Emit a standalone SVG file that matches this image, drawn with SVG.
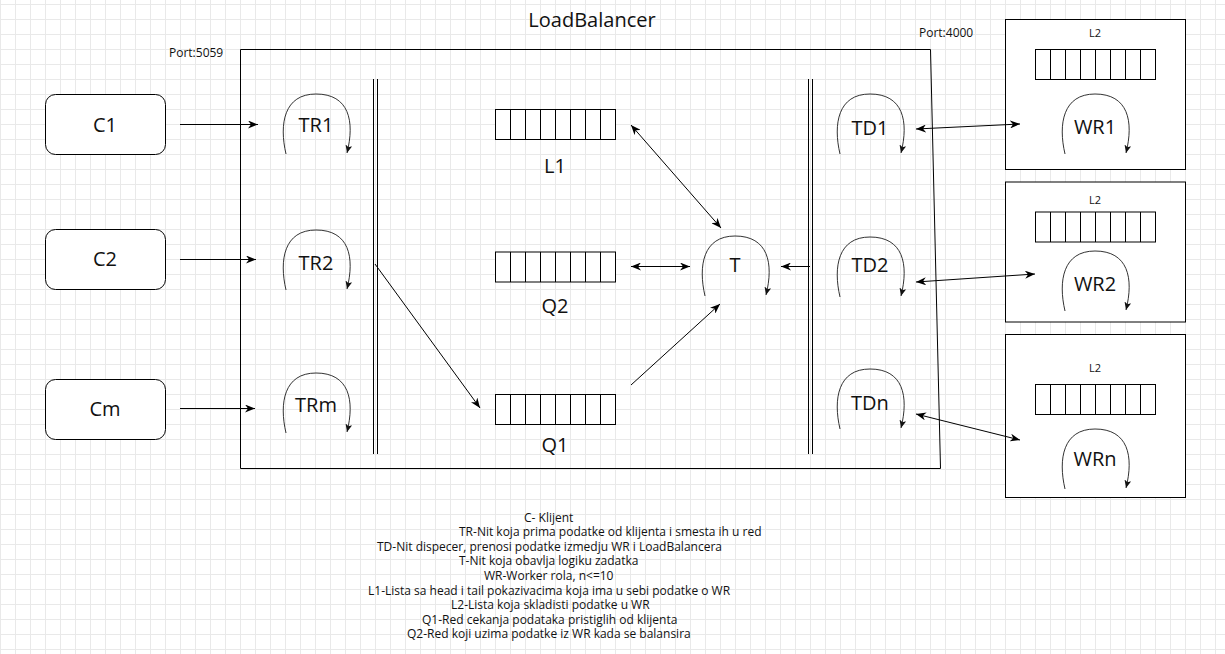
<svg xmlns="http://www.w3.org/2000/svg" width="1225" height="654" viewBox="0 0 1225 654">
<style>
  text { font-family: "Open Sans", "Liberation Sans", sans-serif; fill: #111; }
  .lbl { font-size: 20px; text-anchor: middle; }
  .small { font-size: 12px; }
  .l2 { font-size: 11px; text-anchor: middle; }
  .leg { font-size: 12px; }
  .box { fill: #fff; stroke: #000; stroke-width: 1; }
  .q { fill: #fff; stroke: #000; stroke-width: 1; }
  .qd { fill: none; stroke: #000; stroke-width: 1; }
  .con { fill: none; stroke: #000; stroke-width: 1; marker-end: url(#arr); }
  .bi { marker-start: url(#arr); }
  .thr { fill: none; stroke: #333; stroke-width: 1; marker-end: url(#tarr); }
  .ln { fill: none; stroke: #000; stroke-width: 1; }
</style>
<defs>
  <pattern id="grid" patternUnits="userSpaceOnUse" x="0" y="4" width="15" height="15">
    <path d="M0.5,0 V15 M0,0.5 H15" stroke="#e9e9e9" stroke-width="1" fill="none"/>
  </pattern>
  <marker id="arr" markerUnits="userSpaceOnUse" viewBox="0 0 10 8" markerWidth="10" markerHeight="8" refX="10" refY="4" orient="auto-start-reverse">
    <path d="M0,0 L10,4 L0,8 L3,4 Z" fill="#000"/>
  </marker>
  <marker id="tarr" markerUnits="userSpaceOnUse" viewBox="0 0 8 7" markerWidth="8" markerHeight="7" refX="8" refY="3.5" orient="auto">
    <path d="M0,0 L8,3.5 L0,7 L2,3.5 Z" fill="#111"/>
  </marker>
  <path id="thread" d="M4,60 C-3,30 2,0 34,0 C67,0 73,27 65,59"/>
  <g id="queue">
    <rect class="q" x="0" y="0" width="120" height="30"/>
    <path class="qd" d="M15,0V30M30,0V30M45,0V30M60,0V30M75,0V30M90,0V30M105,0V30"/>
  </g>
</defs>
<rect width="1225" height="654" fill="#fff"/>
<rect width="1225" height="654" fill="url(#grid)"/>

<text x="592" y="27" style="font-size:20px;text-anchor:middle">LoadBalancer</text>

<g id="loadbalancer">
  <path class="ln" d="M240.5,49.5 H930.5 L940.5,468.5 H240.5 Z" fill="none"/>
  <text class="small" x="169" y="57">Port:5059</text>
  <text class="small" x="919" y="37">Port:4000</text>
  <path class="ln" d="M373.5,79 V454 M377.5,79 V454"/>
  <path class="ln" d="M808.5,79 V454 M812.5,79 V454"/>
</g>

<g id="C1"><rect class="box" x="45.5" y="94.5" width="120" height="60" rx="10"/><text class="lbl" x="105" y="132">C1</text></g>
<g id="C2"><rect class="box" x="45.5" y="229.5" width="120" height="60" rx="10"/><text class="lbl" x="105" y="266">C2</text></g>
<g id="Cm"><rect class="box" x="45.5" y="379.5" width="120" height="60" rx="10"/><text class="lbl" x="105" y="416">Cm</text></g>

<g id="TR1"><use href="#thread" class="thr" x="282" y="94"/><text class="lbl" x="316" y="132">TR1</text></g>
<g id="TR2"><use href="#thread" class="thr" x="282" y="230"/><text class="lbl" x="316" y="270">TR2</text></g>
<g id="TRm"><use href="#thread" class="thr" x="282" y="373"/><text class="lbl" x="316" y="412">TRm</text></g>

<g id="L1"><use href="#queue" x="495.5" y="109.5"/><text class="lbl" x="555" y="173">L1</text></g>
<g id="Q2"><use href="#queue" x="495.5" y="252"/><text class="lbl" x="555" y="313">Q2</text></g>
<g id="Q1"><use href="#queue" x="495.5" y="394.5"/><text class="lbl" x="555" y="452">Q1</text></g>

<g id="T"><use href="#thread" class="thr" x="701" y="236"/><text class="lbl" x="735" y="272">T</text></g>

<g id="TD1"><use href="#thread" class="thr" x="836" y="94"/><text class="lbl" x="870" y="135">TD1</text></g>
<g id="TD2"><use href="#thread" class="thr" x="836" y="237"/><text class="lbl" x="870" y="272">TD2</text></g>
<g id="TDn"><use href="#thread" class="thr" x="836" y="369"/><text class="lbl" x="870" y="410">TDn</text></g>

<g id="WR1">
  <rect class="box" x="1005.5" y="19.5" width="180" height="150"/>
  <text class="l2" x="1095" y="36.5">L2</text>
  <use href="#queue" x="1035.5" y="49.5"/>
  <use href="#thread" class="thr" x="1061" y="94"/>
  <text class="lbl" x="1095" y="134">WR1</text>
</g>
<g id="WR2">
  <rect class="box" x="1005.5" y="182" width="180" height="140"/>
  <text class="l2" x="1095" y="204">L2</text>
  <use href="#queue" x="1035.5" y="212"/>
  <use href="#thread" class="thr" x="1061" y="251"/>
  <text class="lbl" x="1095" y="291">WR2</text>
</g>
<g id="WRn">
  <rect class="box" x="1005.5" y="334.5" width="180" height="163"/>
  <text class="l2" x="1095" y="372">L2</text>
  <use href="#queue" x="1035.5" y="384.5"/>
  <use href="#thread" class="thr" x="1061" y="429"/>
  <text class="lbl" x="1095" y="466">WRn</text>
</g>

<g id="connectors">
  <path class="con" d="M180,124.5 H258"/>
  <path class="con" d="M180,259.5 H256"/>
  <path class="con" d="M180,408.5 H255"/>
  <path class="con" d="M375,264 L480,408"/>
  <path class="con bi" d="M631,125 L721,228"/>
  <path class="con bi" d="M631,266.5 H690"/>
  <path class="con" d="M810,266.5 H781"/>
  <path class="con" d="M631,385 L720,304"/>
  <path class="con bi" d="M916,129 L1020,124"/>
  <path class="con bi" d="M916,282 L1035,274"/>
  <path class="con bi" d="M916,414 L1020,440"/>
</g>

<g id="legend">
  <text class="leg" x="524" y="521.5">C- Klijent</text>
  <text class="leg" x="459" y="536.1">TR-Nit koja prima podatke od klijenta i smesta ih u red</text>
  <text class="leg" x="377" y="550.7">TD-Nit dispecer, prenosi podatke izmedju WR i LoadBalancera</text>
  <text class="leg" x="459" y="565.3">T-Nit koja obavlja logiku zadatka</text>
  <text class="leg" x="484" y="579.9">WR-Worker rola, n&lt;=10</text>
  <text class="leg" x="368" y="594.5">L1-Lista sa head i tail pokazivacima koja ima u sebi podatke o WR</text>
  <text class="leg" x="451" y="609.1">L2-Lista koja skladisti podatke u WR</text>
  <text class="leg" x="422" y="623.7">Q1-Red cekanja podataka pristiglih od klijenta</text>
  <text class="leg" x="407" y="638.3">Q2-Red koji uzima podatke iz WR kada se balansira</text>
</g>
</svg>
